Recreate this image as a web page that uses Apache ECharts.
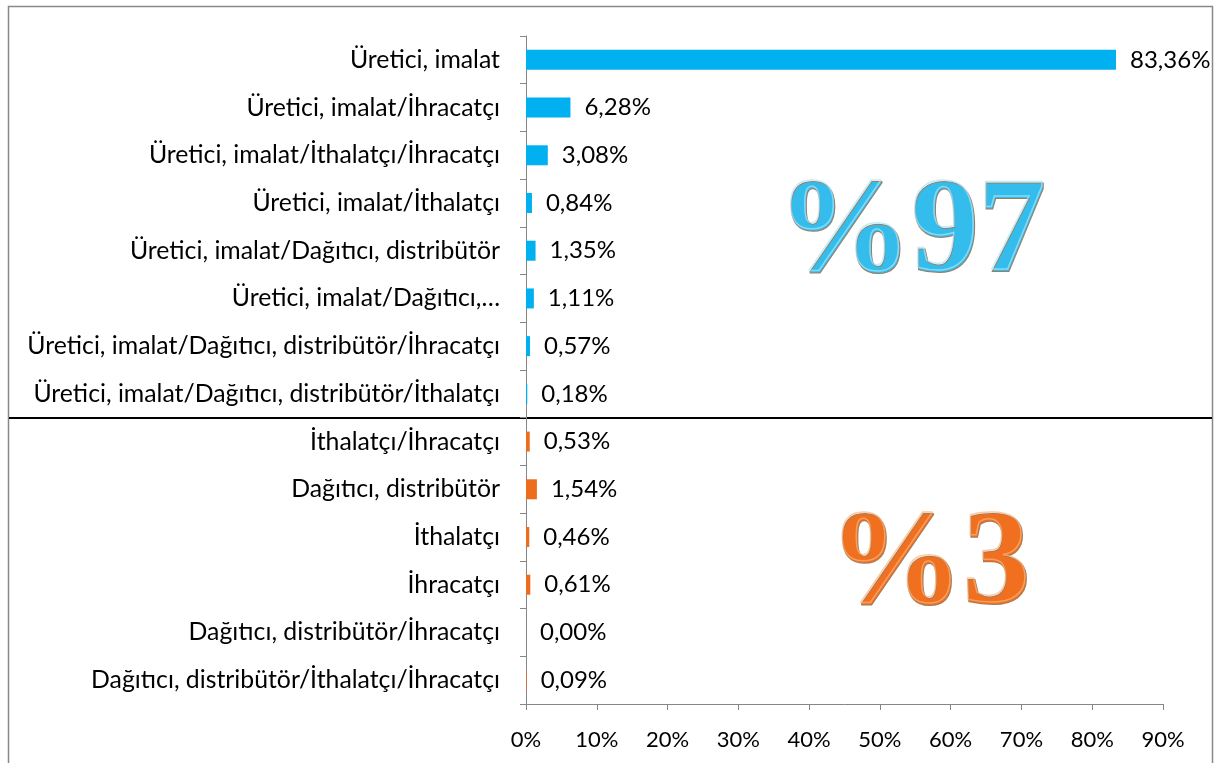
<!DOCTYPE html>
<html>
<head>
<meta charset="utf-8">
<script src="https://cdn.jsdelivr.net/npm/echarts@6/dist/echarts.min.js"></script>
<style>
  html, body { margin: 0; padding: 0; background: #fff; }
  #main { width: 1215px; height: 763px; }
</style>
</head>
<body>
<div id="main"></div>
<script>
var categories = [
  'Üretici, imalat',
  'Üretici, imalat/İhracatçı',
  'Üretici, imalat/İthalatçı/İhracatçı',
  'Üretici, imalat/İthalatçı',
  'Üretici, imalat/Dağıtıcı, distribütör',
  'Üretici, imalat/Dağıtıcı,…',
  'Üretici, imalat/Dağıtıcı, distribütör/İhracatçı',
  'Üretici, imalat/Dağıtıcı, distribütör/İthalatçı',
  'İthalatçı/İhracatçı',
  'Dağıtıcı, distribütör',
  'İthalatçı',
  'İhracatçı',
  'Dağıtıcı, distribütör/İhracatçı',
  'Dağıtıcı, distribütör/İthalatçı/İhracatçı'
]
var values = [83.36, 6.28, 3.08, 0.84, 1.35, 1.11, 0.57, 0.18, 0.53, 1.54, 0.46, 0.61, 0.00, 0.09]
// first 8 rows are producers (%97), the rest others (%3)
var producerCount = 8
var groupLabels = ['%97', '%3']

var font = 'Lato'
var oChart = echarts.init(document.getElementById('main'))

var option = {
  animation: false,
  grid: { left: 526, right: 52, top: 36, bottom: 59 },
  xAxis: {
    type: 'value',
    min: 0,
    max: 90,
    interval: 10,
    axisLine: { show: true, lineStyle: { color: '#868686', width: 1 } },
    axisTick: { show: true, length: 6, lineStyle: { color: '#868686' } },
    splitLine: { show: false },
    axisLabel: { formatter: '{value}%', color: '#000', fontSize: 22, fontFamily: font, margin: 25 }
  },
  yAxis: {
    type: 'category',
    inverse: true,
    data: categories,
    axisLine: { show: true, lineStyle: { color: '#868686', width: 1 } },
    axisTick: { show: true, length: 6, lineStyle: { color: '#868686' } },
    axisLabel: { color: '#000', fontSize: 24.8, fontFamily: font, margin: 26 }
  },
  series: [
    {
      type: 'bar',
      data: values,
      barWidth: 20,
      itemStyle: {
        color: function (p) { return p.dataIndex < producerCount ? '#00B0F0' : '#EE6C1E' }
      },
      label: {
        show: true,
        position: 'right',
        distance: 14,
        color: '#000',
        fontSize: 24,
        fontFamily: font,
        formatter: function (p) { return p.value.toFixed(2).replace('.', ',') + '%' }
      }
    }
  ]
}
oChart.setOption(option)

// separator between the two groups
var yTop = oChart.convertToPixel({ yAxisIndex: 0 }, categories[producerCount - 1])
var yBot = oChart.convertToPixel({ yAxisIndex: 0 }, categories[producerCount])
var ySep = Math.round((yTop + yBot) / 2)
var yMid1 = (oChart.convertToPixel({ yAxisIndex: 0 }, categories[0]) + yTop) / 2
var yMid2 = (yBot + oChart.convertToPixel({ yAxisIndex: 0 }, categories[categories.length - 1])) / 2

function bigText (txt, x, y, fill, light) {
  var base = {
    text: txt,
    align: 'center',
    verticalAlign: 'middle',
    font: 'bold 134px "Liberation Serif"'
  }
  return {
    type: 'group',
    children: [
      {
        type: 'text',
        x: x,
        y: y,
        style: Object.assign({}, base, {
          fill: fill,
          stroke: '#a07c5c',
          lineWidth: 2,
          shadowBlur: 8,
          shadowOffsetX: 3,
          shadowOffsetY: 5,
          shadowColor: 'rgba(0,0,0,0.35)'
        })
      },
      {
        type: 'text',
        x: x - 1,
        y: y - 2,
        style: Object.assign({}, base, {
          fill: 'none',
          stroke: light,
          lineWidth: 1.5,
          opacity: 0.7
        })
      }
    ]
  }
}

oChart.setOption({
  graphic: [
    {
      type: 'rect',
      shape: { x: 8.5, y: 6.5, width: 1204, height: 800 },
      style: { fill: 'none', stroke: '#898989', lineWidth: 1.5 },
      silent: true
    },
    {
      type: 'line',
      shape: { x1: 9, y1: ySep, x2: 1212, y2: ySep },
      style: { stroke: '#000', lineWidth: 2 }
    },
    bigText(groupLabels[0], 912, yMid1 + 10, '#33bcec', '#a8e6fb'),
    bigText(groupLabels[1], 930, yMid2 + 8, '#f0701f', '#fbb27a')
  ]
})
</script>
</body>
</html>
